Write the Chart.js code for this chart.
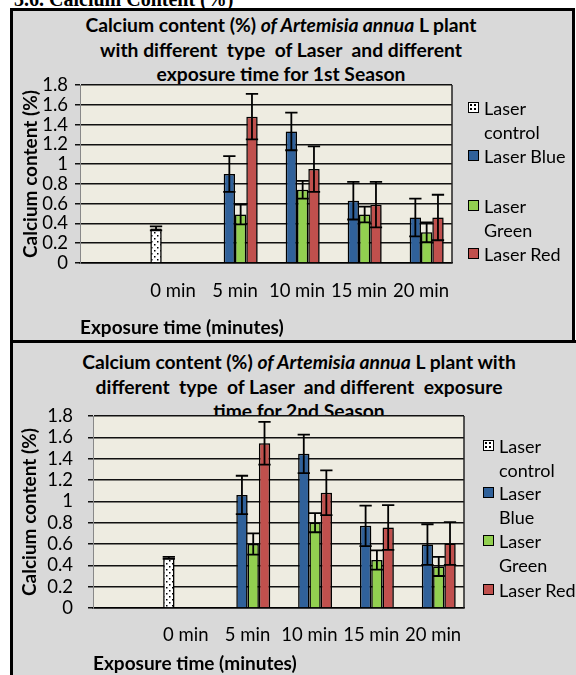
<!DOCTYPE html>
<html>
<head>
<meta charset="utf-8">
<script src="https://cdn.jsdelivr.net/npm/chart.js"></script>
<style>
  body { margin: 0; width: 576px; height: 675px; overflow: hidden; background: #fff; position: relative; font-family: Lato, sans-serif; }
  .hdr { position: absolute; left: 14px; top: -11px; font: bold 20px/20px "Liberation Serif", serif; white-space: nowrap; }
  .box { position: absolute; background: #d9d9d9; border: 3px solid #000; box-sizing: border-box; }
  #box1 { left: 10px; top: 8px; width: 565px; height: 336px; }
  #box2 { left: 10px; top: 340px; width: 600px; height: 360px; }
  canvas { position: absolute; left: 0; }
  .ttl { position: absolute; width: 460px; text-align: center; font-weight: bold; font-size: 19.3px; line-height: 24.5px; white-space: pre; color: #000; }
  .leg { position: absolute; font-size: 18px; line-height: 24px; color: #000; white-space: nowrap; }
  .leg .sw { position: absolute; width: 11px; height: 11px; border: 1.5px solid #000; box-sizing: border-box; top: 6px; }
</style>
</head>
<body>
<div class="hdr">3.6. Calcium Content (%)</div>
<div class="box" id="box1"></div>
<div class="box" id="box2"></div>

<div class="ttl" style="left:51px;top:13px">Calcium content (%) <i>of Artemisia annua</i> L plant
with different  type  of Laser  and different
exposure time for 1st Season</div>
<div class="ttl" style="left:69px;top:350px">Calcium content (%) <i>of Artemisia annua</i> L plant with
different  type  of Laser  and different  exposure
time for 2nd Season</div>

<canvas id="c1" width="576" height="343" style="top:0"></canvas>
<canvas id="c2" width="576" height="332" style="top:343px"></canvas>

<div id="leg1"></div>
<div id="leg2"></div>

<script>
// exposure time categories (first slot is empty, as in the original chart)
const categories = ['', '0 min', '5 min', '10 min', '15 min', '20 min'];
const seriesNames = ['Laser control', 'Laser Blue', 'Laser Green', 'Laser Red'];
const yTickLabels = ['0', '0.2', '0.4', '0.6', '0.8', '1', '1.2', '1.4', '1.6', '1.8'];

// 1st season
const control1 = [null, 0.35, null, null, null, null];
const blue1 = [null, null, 0.90, 1.33, 0.63, 0.46];
const green1 = [null, null, 0.49, 0.74, 0.49, 0.31];
const red1 = [null, null, 1.48, 0.95, 0.59, 0.46];
const controlErr1 = [null, 0.02, null, null, null, null];
const blueErr1 = [null, null, 0.18, 0.19, 0.19, 0.19];
const greenErr1 = [null, null, 0.10, 0.09, 0.08, 0.10];
const redErr1 = [null, null, 0.23, 0.23, 0.23, 0.23];

// 2nd season
const control2 = [null, 0.47, null, null, null, null];
const blue2 = [null, null, 1.06, 1.445, 0.77, 0.595];
const green2 = [null, null, 0.60, 0.80, 0.45, 0.39];
const red2 = [null, null, 1.545, 1.08, 0.755, 0.605];
const controlErr2 = [null, 0.01, null, null, null, null];
const blueErr2 = [null, null, 0.18, 0.18, 0.19, 0.19];
const greenErr2 = [null, null, 0.10, 0.09, 0.09, 0.09];
const redErr2 = [null, null, 0.20, 0.21, 0.21, 0.20];

Chart.defaults.font.family = 'Lato';
Chart.defaults.color = '#000';

function dotPattern() {
	let p = document.createElement('canvas');
	p.width = 6; p.height = 6;
	let c = p.getContext('2d');
	c.fillStyle = '#fff';
	c.fillRect(0, 0, 6, 6);
	c.fillStyle = '#000';
	c.fillRect(1, 1, 1.5, 1.5);
	c.fillRect(4, 4, 1.5, 1.5);
	return c.createPattern(p, 'repeat');
}
const colors = [dotPattern(), '#30619a', '#92d050', '#c0504d'];

const plotBg = {
	id: 'plotBg',
	beforeDraw(chart) {
		const {ctx, chartArea: a} = chart;
		ctx.save();
		ctx.fillStyle = '#eeece1';
		ctx.fillRect(a.left, a.top, a.right - a.left, a.bottom - a.top);
		ctx.restore();
	},
	beforeDatasetsDraw(chart) {
		const {ctx, chartArea: a} = chart;
		ctx.save();
		ctx.strokeStyle = '#222';
		ctx.lineWidth = 1.5;
		ctx.beginPath();
		ctx.moveTo(a.right, a.top);
		ctx.lineTo(a.right, a.bottom);
		ctx.stroke();
		ctx.restore();
	}
};

const barShadow = {
	id: 'barShadow',
	beforeDatasetDraw(chart) {
		const ctx = chart.ctx;
		ctx.save();
		ctx.shadowColor = 'rgba(0,0,0,0.35)';
		ctx.shadowBlur = 7;
		ctx.shadowOffsetX = 3;
		ctx.shadowOffsetY = 1;
	},
	afterDatasetDraw(chart) {
		chart.ctx.restore();
	}
};

const errorBars = {
	id: 'errorBars',
	afterDatasetsDraw(chart) {
		const ctx = chart.ctx;
		const y = chart.scales.y;
		ctx.save();
		ctx.strokeStyle = '#000';
		ctx.lineWidth = 1.8;
		chart.data.datasets.forEach((ds, i) => {
			const meta = chart.getDatasetMeta(i);
			meta.data.forEach((bar, j) => {
				const v = ds.data[j], e = ds.errors[j];
				if (v == null || e == null) return;
				const top = y.getPixelForValue(v + e);
				const bot = y.getPixelForValue(v - e);
				const hw = bar.width / 2 + 0.5;
				ctx.beginPath();
				ctx.moveTo(bar.x, top); ctx.lineTo(bar.x, bot);
				ctx.moveTo(bar.x - hw, top); ctx.lineTo(bar.x + hw, top);
				ctx.moveTo(bar.x - hw, bot); ctx.lineTo(bar.x + hw, bot);
				ctx.stroke();
			});
		});
		ctx.restore();
	}
};

function makeChart(id, values, errs, lay) {
	const datasets = values.map((d, i) => ({
		label: seriesNames[i],
		data: d,
		errors: errs[i],
		backgroundColor: colors[i],
		borderColor: '#000',
		borderWidth: 1.5,
		categoryPercentage: 0.73,
		barPercentage: 1.0
	}));
	new Chart(document.getElementById(id).getContext('2d'), {
		type: 'bar',
		data: { labels: categories, datasets: datasets },
		options: {
			responsive: false,
			animation: false,
			devicePixelRatio: 1,
			layout: { padding: lay.padding },
			plugins: { legend: { display: false }, title: { display: false }, tooltip: { enabled: false } },
			scales: {
				x: {
					grid: { display: false, drawTicks: false },
					border: { display: true, color: '#000', width: 1.5 },
					ticks: { font: { size: 18.5 }, padding: lay.xPad, maxRotation: 0, autoSkip: false },
					title: { display: true, text: 'Exposure time (minutes)', align: 'start', font: { size: 19, weight: 'bold' }, padding: 0 },
					afterFit: s => { s.height = lay.xHeight; }
				},
				y: {
					min: 0, max: 1.8,
					ticks: { stepSize: 0.2, autoSkip: false, font: { size: 18.5 }, padding: lay.yPad, callback: (v, i) => yTickLabels[i] },
					grid: { color: '#111', lineWidth: 1.5, tickLength: 5 },
					border: { display: true, color: '#888', width: 1 },
					title: { display: true, text: 'Calcium content (%)', font: { size: 19, weight: 'bold' }, padding: 0 },
					afterFit: s => { s.width = lay.yWidth; }
				}
			}
		},
		plugins: [plotBg, barShadow, errorBars]
	});
}

makeChart('c1', [control1, blue1, green1, red1], [controlErr1, blueErr1, greenErr1, redErr1],
	{ padding: { left: 19, right: 124, top: 85, bottom: 4 }, yWidth: 61, xHeight: 76, xPad: 17, yPad: 7 });
makeChart('c2', [control2, blue2, green2, red2], [controlErr2, blueErr2, greenErr2, redErr2],
	{ padding: { left: 18, right: 112, top: 73, bottom: 0 }, yWidth: 75, xHeight: 67, xPad: 16, yPad: 15 });

// legends (wrapped like the original)
function legend(id, x, rows, texts) {
	const el = document.getElementById(id);
	texts.forEach((t, i) => {
		const item = document.createElement('div');
		item.className = 'leg';
		item.style.left = (x + 16) + 'px';
		item.style.top = (rows[i] - 12) + 'px';
		item.innerHTML = t;
		const box = document.createElement('span');
		box.className = 'sw';
		box.style.left = '-16px';
		if (i === 0) {
			box.style.background = 'radial-gradient(circle, #000 0.8px, transparent 1px) 0 0/4px 4px, #fff';
		} else {
			box.style.background = ['', '#30619a', '#92d050', '#c0504d'][i];
		}
		item.appendChild(box);
		el.appendChild(item);
	});
}
legend('leg1', 468, [108, 156, 206, 254], ['Laser<br>control', 'Laser Blue', 'Laser<br>Green', 'Laser Red']);
legend('leg2', 483, [446, 493, 541, 590], ['Laser<br>control', 'Laser<br>Blue', 'Laser<br>Green', 'Laser Red']);
</script>
</body>
</html>
